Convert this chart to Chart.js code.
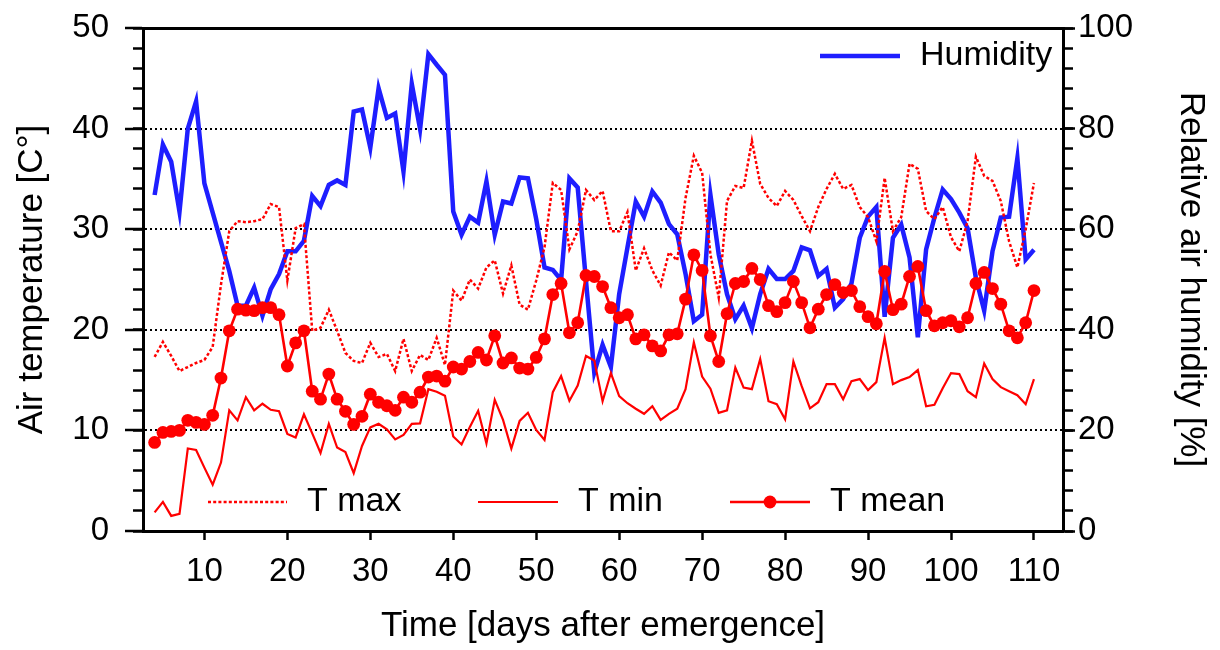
<!DOCTYPE html>
<html>
<head>
<meta charset="utf-8">
<script src="https://cdn.jsdelivr.net/npm/chart.js@4.4.1/dist/chart.umd.min.js"></script>
<style>
html,body{margin:0;padding:0;background:#fff;}
#wrap{width:1220px;height:650px;position:relative;}
</style>
</head>
<body>
<div id="wrap"><canvas id="c" width="1220" height="650"></canvas></div>
<script>
// ---------- data ----------
const days = [4,5,6,7,8,9,10,11,12,13,14,15,16,17,18,19,20,21,22,23,24,25,26,27,28,29,30,31,32,33,34,35,36,37,38,39,40,41,42,43,44,45,46,47,48,49,50,51,52,53,54,55,56,57,58,59,60,61,62,63,64,65,66,67,68,69,70,71,72,73,74,75,76,77,78,79,80,81,82,83,84,85,86,87,88,89,90,91,92,93,94,95,96,97,98,99,100,101,102,103,104,105,106,107,108,109,110];

const humidity = [66.8,76.8,73.4,63.5,80.0,85.4,69.1,63.3,57.5,51.7,44.8,44.8,48.4,42.8,48.1,51.1,55.6,55.6,57.7,66.6,64.6,68.8,69.7,68.8,83.4,83.8,76.2,88.0,82.1,83.0,71.5,88.9,79.9,94.8,92.7,90.7,63.5,58.9,62.5,61.3,69.5,58.9,65.5,65.1,70.3,70.1,62.0,52.4,51.9,49.9,70.1,68.3,49.7,31.5,37.0,32.6,47.1,56.4,65.5,62.5,67.5,65.3,61.0,59.0,51.1,41.7,43.0,66.8,55.0,47.1,42.1,44.8,40.3,47.1,52.1,50.1,50.1,51.7,56.4,55.8,50.7,52.1,44.4,46.1,49.2,58.3,62.5,64.4,42.6,58.3,60.9,54.4,38.5,56.0,62.3,67.9,66.0,63.3,60.2,50.3,43.8,55.6,62.3,62.5,74.1,54.0,55.9];

const tMax = [17.3,18.8,17.4,15.9,16.3,16.7,17.0,18.3,24.5,29.8,30.8,30.7,30.8,31.0,32.5,32.2,24.9,30.1,30.5,19.9,20.2,22.0,19.9,17.7,16.9,16.7,18.7,17.3,17.6,15.9,19.1,15.9,17.5,17.0,19.2,16.5,23.9,22.9,25.0,24.1,26.2,26.9,23.6,26.4,22.5,22.0,24.9,28.2,34.6,33.9,28.0,29.8,33.9,32.9,33.8,29.8,29.8,31.7,25.9,28.1,25.9,24.4,27.7,26.9,33.1,37.3,35.6,27.5,23.2,32.8,34.3,34.1,38.8,34.5,33.1,32.3,33.8,32.9,31.3,29.8,32.2,34.0,35.5,34.0,34.4,32.2,31.2,28.8,35.1,29.8,31.2,36.5,36.0,31.8,31.0,32.2,29.2,27.8,30.8,37.2,35.3,34.8,32.8,28.8,26.2,30.0,34.6];

const tMin = [1.85,2.9,1.5,1.7,8.2,8.05,6.3,4.6,6.8,12.0,11.0,13.3,12.0,12.65,12.05,11.9,9.65,9.3,11.6,9.7,7.75,10.65,8.3,7.85,5.75,8.45,10.3,10.65,10.1,9.1,9.55,10.65,10.7,14.1,13.85,13.45,9.4,8.6,10.35,11.95,8.7,13.05,11.05,8.2,10.95,11.75,10.05,9.05,13.8,15.4,12.95,14.45,17.4,16.95,12.9,15.7,13.4,12.7,12.15,11.65,12.4,11.05,11.65,12.15,14.1,18.75,15.35,14.15,11.75,12.0,16.25,14.25,14.1,17.1,12.9,12.6,11.1,16.85,14.4,12.2,12.8,14.6,14.6,13.1,14.9,15.1,14.0,14.8,19.2,14.6,15.0,15.3,16.0,12.4,12.55,14.2,15.7,15.6,13.9,13.3,16.65,15.1,14.3,13.9,13.5,12.6,15.1];

const tMean = [8.8,9.8,9.9,10.0,11.0,10.8,10.6,11.5,15.2,19.9,22.05,21.95,21.9,22.2,22.2,21.5,16.4,18.7,19.9,13.9,13.1,15.6,13.1,11.9,10.6,11.4,13.6,12.8,12.45,12.0,13.3,12.8,13.8,15.3,15.4,14.9,16.3,16.1,16.85,17.75,17.0,19.4,16.7,17.2,16.2,16.1,17.25,19.1,23.5,24.6,19.7,20.7,25.4,25.3,24.3,22.2,21.2,21.5,19.1,19.5,18.4,17.9,19.5,19.6,23.05,27.45,25.9,19.4,16.85,21.6,24.6,24.8,26.1,25.0,22.4,21.8,22.7,24.8,22.7,20.2,22.05,23.5,24.5,23.7,23.9,22.3,21.3,20.6,25.8,22.0,22.55,25.3,26.3,21.9,20.4,20.7,20.9,20.3,21.2,24.6,25.7,24.1,22.55,19.9,19.2,20.7,23.9];

const xTicks = [10,20,30,40,50,60,70,80,90,100,110];
const tempTicks = [0,10,20,30,40,50];
const tempMinorTicks = [0,2,4,6,8,10,12,14,16,18,20,22,24,26,28,30,32,34,36,38,40,42,44,46,48,50];
const humTicks = [0,20,40,60,80,100];
const humMinorTicks = [0,4,8,12,16,20,24,28,32,36,40,44,48,52,56,60,64,68,72,76,80,84,88,92,96,100];
const gridValues = [10,20,30,40];

// ---------- styling ----------
const FONT = "'Liberation Sans', Arial, Helvetica, sans-serif";
const RED = 'rgb(255,0,0)';
const BLUE = 'rgb(30,30,255)';
const X_MIN = 2.6, X_MAX = 113.5;

const pts = arr => days.map((d, i) => ({x: d, y: arr[i]}));

const setTicks = list => scale => { scale.ticks = list.map(v => ({value: v})); };
const fixWidth = w => s => { s.width = w; s.paddingTop = 0; s.paddingBottom = 0; };

const datasets = [
  {label:'T mean', data: pts(tMean), yAxisID:'y', borderColor: RED, backgroundColor: RED,
   borderWidth: 2.6, pointRadius: 6.4, pointBorderWidth: 0, pointBackgroundColor: RED, tension: 0},
  {label:'T min', data: pts(tMin), yAxisID:'y', borderColor: RED, borderWidth: 2.2, pointRadius: 0, tension: 0},
  {label:'T max', data: pts(tMax), yAxisID:'y', borderColor: RED, borderWidth: 2.5, borderDash:[3,2.2], pointRadius: 0, tension: 0},
  {label:'Humidity', data: pts(humidity), yAxisID:'y2', borderColor: BLUE, borderWidth: 4.5, pointRadius: 0, tension: 0}
];

const legendItems = [
  {ds: 3, x1: 820, x2: 900, y: 56, tx: 920},
  {ds: 2, x1: 208, x2: 287, y: 502, tx: 307},
  {ds: 1, x1: 478, x2: 558, y: 502, tx: 578},
  {ds: 0, x1: 730, x2: 810, y: 502, tx: 830}
];

const legendPlugin = {
  id: 'twoLegends',
  afterDatasetsDraw(chart) {
    const ctx = chart.ctx;
    ctx.save();
    ctx.font = '34px ' + FONT;
    ctx.textBaseline = 'middle';
    ctx.textAlign = 'left';
    legendItems.forEach(it => {
      const ds = chart.data.datasets[it.ds];
      ctx.save();
      ctx.strokeStyle = ds.borderColor;
      ctx.lineWidth = ds.borderWidth;
      ctx.setLineDash(ds.borderDash || []);
      ctx.beginPath();
      ctx.moveTo(it.x1, it.y);
      ctx.lineTo(it.x2, it.y);
      ctx.stroke();
      if (ds.pointRadius) {
        ctx.setLineDash([]);
        ctx.fillStyle = ds.pointBackgroundColor;
        ctx.beginPath();
        ctx.arc((it.x1 + it.x2) / 2, it.y, ds.pointRadius, 0, Math.PI * 2);
        ctx.fill();
      }
      ctx.restore();
      ctx.fillStyle = '#000';
      ctx.fillText(ds.label, it.tx, it.y);
    });
    ctx.restore();
  }
};

const tickFont = {family: FONT, size: 33};
const titleFont = {family: FONT, size: 35};

new Chart(document.getElementById('c'), {
  type: 'line',
  data: {datasets},
  plugins: [legendPlugin],
  options: {
    responsive: false,
    animation: false,
    devicePixelRatio: 1,
    layout: {padding: {top: 28, left: 0, right: 0, bottom: 0}},
    plugins: {legend: {display: false}, tooltip: {enabled: false}},
    scales: {
      x: {
        type: 'linear', position: 'bottom', min: X_MIN, max: X_MAX,
        afterBuildTicks: setTicks(xTicks),
        afterFit: s => { s.height = 119; s.paddingLeft = 0; s.paddingRight = 0; },
        ticks: {font: tickFont, color: '#000', padding: 12, autoSkip: false, maxRotation: 0},
        grid: {drawOnChartArea: false, drawTicks: true, tickLength: 9, tickWidth: 2.5, tickColor: '#000'},
        border: {display: true, color: '#000', width: 3},
        title: {display: true, text: 'Time [days after emergence]', font: titleFont, color: '#000', padding: {top: 0, bottom: 3}}
      },
      xTop: {
        type: 'linear', position: 'top', min: X_MIN, max: X_MAX,
        afterFit: s => { s.height = 0; },
        ticks: {display: false},
        grid: {drawOnChartArea: false, drawTicks: false},
        border: {display: true, color: '#000', width: 3}
      },
      y: {
        type: 'linear', position: 'left', min: 0, max: 50, weight: 1,
        afterBuildTicks: setTicks(tempTicks),
        afterFit: fixWidth(143),
        ticks: {font: tickFont, color: '#000', padding: 16, autoSkip: false},
        grid: {
          drawOnChartArea: true, drawTicks: true, tickLength: 18, tickWidth: 2.5, tickColor: '#000',
          lineWidth: 2,
          color: c => (gridValues.includes(c.tick && c.tick.value) ? '#000' : 'rgba(0,0,0,0)')
        },
        border: {display: true, color: '#000', width: 3, dash: [2, 3]},
        title: {display: true, text: 'Air temperature [C°]', font: titleFont, color: '#000', padding: {top: 11, bottom: 0}}
      },
      yMinor: {
        type: 'linear', position: 'left', min: 0, max: 50, weight: 0,
        afterBuildTicks: setTicks(tempMinorTicks),
        afterFit: fixWidth(0),
        ticks: {display: false},
        grid: {drawOnChartArea: false, drawTicks: true, tickLength: 10, tickWidth: 2.5, tickColor: '#000'},
        border: {display: false}
      },
      y2: {
        type: 'linear', position: 'right', min: 0, max: 100, weight: 1,
        afterBuildTicks: setTicks(humTicks),
        afterFit: fixWidth(157),
        ticks: {font: tickFont, color: '#000', padding: 3, autoSkip: false},
        grid: {drawOnChartArea: false, drawTicks: true, tickLength: 12, tickWidth: 2.5, tickColor: '#000'},
        border: {display: true, color: '#000', width: 3},
        title: {display: true, text: 'Relative air humidity [%]', font: titleFont, color: '#000', padding: {top: 8, bottom: 0}}
      },
      y2Minor: {
        type: 'linear', position: 'right', min: 0, max: 100, weight: 0,
        afterBuildTicks: setTicks(humMinorTicks),
        afterFit: fixWidth(0),
        ticks: {display: false},
        grid: {drawOnChartArea: false, drawTicks: true, tickLength: 10, tickWidth: 2.5, tickColor: '#000'},
        border: {display: false}
      }
    }
  }
});
</script>
</body>
</html>
